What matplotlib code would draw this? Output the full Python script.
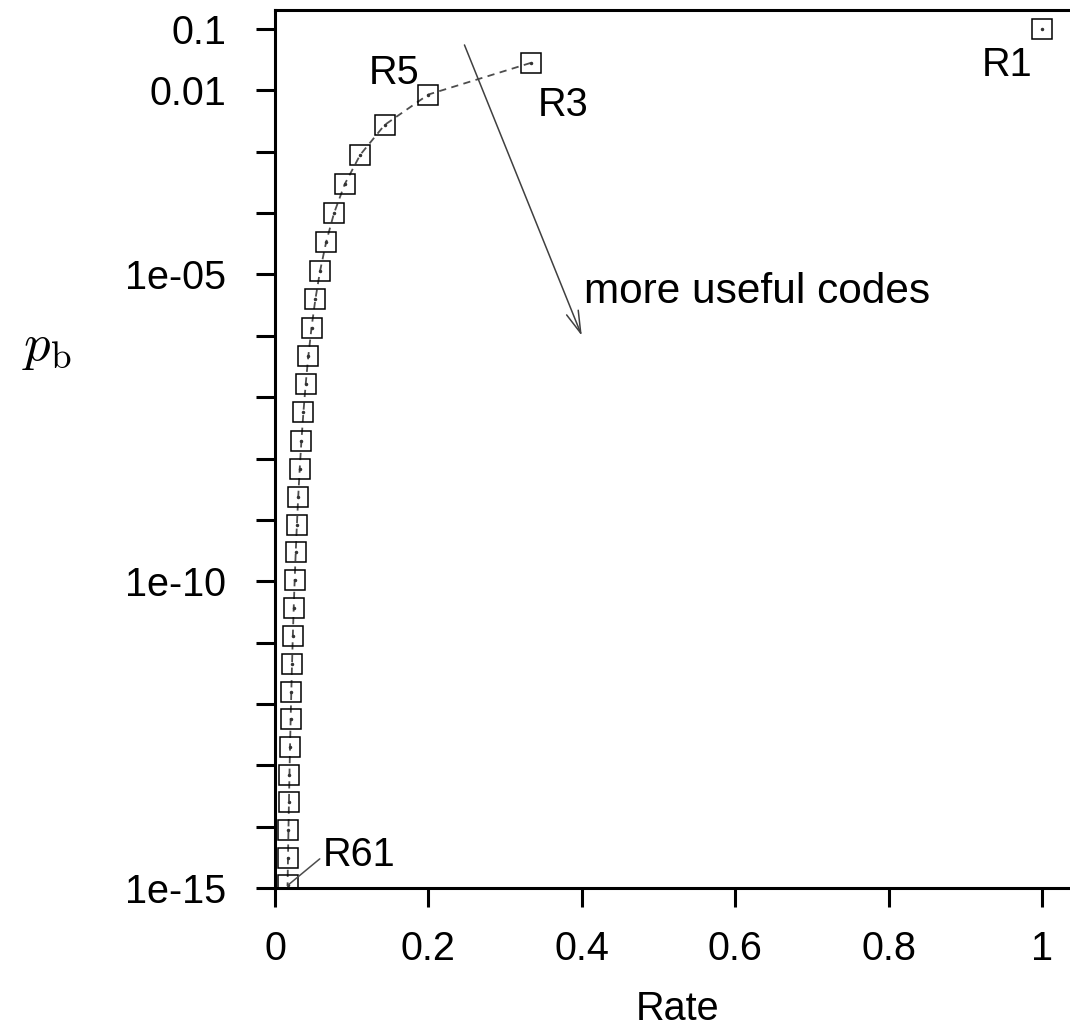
import matplotlib
matplotlib.use('Agg')
import matplotlib.pyplot as plt

plt.rcParams['font.family'] = ['Liberation Sans', 'DejaVu Sans']
plt.rcParams['mathtext.fontset'] = 'cm'

# repetition codes R_N and their bit error probability
n_repeats = [1, 3, 5, 7, 9, 11, 13, 15, 17, 19, 21, 23, 25, 27, 29, 31,
             33, 35, 37, 39, 41, 43, 45, 47, 49, 51, 53, 55, 57, 59, 61]
p_b = [1.000e-01, 2.800e-02, 8.560e-03, 2.728e-03, 8.909e-04, 2.957e-04,
       9.929e-05, 3.362e-05, 1.146e-05, 3.930e-06, 1.353e-06, 4.676e-07,
       1.621e-07, 5.634e-08, 1.963e-08, 6.851e-09, 2.396e-09, 8.392e-10,
       2.944e-10, 1.034e-10, 3.636e-11, 1.280e-11, 4.509e-12, 1.590e-12,
       5.612e-13, 1.982e-13, 7.007e-14, 2.478e-14, 8.770e-15, 3.106e-15,
       1.100e-15]
rate = [1.0 / n for n in n_repeats]

ytick_vals = [10.0 ** k for k in range(-15, 0)]
ytick_labels = {1e-15: '1e-15', 1e-10: '1e-10', 1e-05: '1e-05', 0.01: '0.01', 0.1: '0.1'}
xtick_vals = [0, 0.2, 0.4, 0.6, 0.8, 1.0]
xtick_labels = ['0', '0.2', '0.4', '0.6', '0.8', '1']

fs = 28.5

fig = plt.figure(figsize=(10.7, 10.32), dpi=100)
ax = fig.add_axes([0.257, 0.1395, 0.7527, 0.8508])

# dashed curve R3 .. R61
ax.plot(rate[1:], p_b[1:], color='0.3', lw=1.3, dashes=(4, 3), zorder=2)
# squares on every code incl. R1
ax.plot(rate, p_b, ls='none', marker='s', ms=14.5, mfc='none', mec='black', mew=1.1, zorder=3)
ax.plot(rate, p_b, ls='none', marker='o', ms=1.5, color='0.2', zorder=3)

ax.set_yscale('log')
ax.set_xlim(0, 1.05)
ax.set_ylim(1e-15, 0.204)

ax.set_yticks(ytick_vals)
ax.set_yticklabels([ytick_labels.get(v, '') for v in ytick_vals])
ax.minorticks_off()
ax.set_xticks(xtick_vals)
ax.set_xticklabels(xtick_labels)

for s in ax.spines.values():
    s.set_linewidth(2.2)
ax.tick_params(axis='both', direction='out', length=14, width=2.2, labelsize=fs)
ax.tick_params(axis='y', pad=21)
ax.tick_params(axis='x', pad=16)
ax.tick_params(top=False, right=False)

ax.set_xlabel('Rate', fontsize=fs, labelpad=16)
fig.text(0.044, 0.664, r'$p_{\rm b}$', fontsize=38, ha='center', va='center')

# labels on codes
ax.text(0.189, 0.019, 'R5', fontsize=fs, ha='right', va='center')
ax.text(0.342, 0.0058, 'R3', fontsize=fs, ha='left', va='center')
ax.text(0.988, 0.026, 'R1', fontsize=fs, ha='right', va='center')
ax.annotate('R61', xy=(rate[-1], p_b[-1]), xytext=(0.062, 3.5e-15), fontsize=fs,
            ha='left', va='center',
            arrowprops=dict(arrowstyle='-', color='0.3', lw=1.1, shrinkA=0, shrinkB=0,
                            relpos=(0, 0.45)))

# "more useful codes" arrow
ax.annotate('', xy=(0.4, 1e-6), xytext=(0.247, 0.055),
            arrowprops=dict(arrowstyle='->,head_length=1.6,head_width=0.45', color='0.25', lw=1.1,
                            shrinkA=0, shrinkB=0))
ax.text(0.403, 5.2e-6, 'more useful codes', fontsize=30.5, ha='left', va='center')

fig.savefig('out.png')
